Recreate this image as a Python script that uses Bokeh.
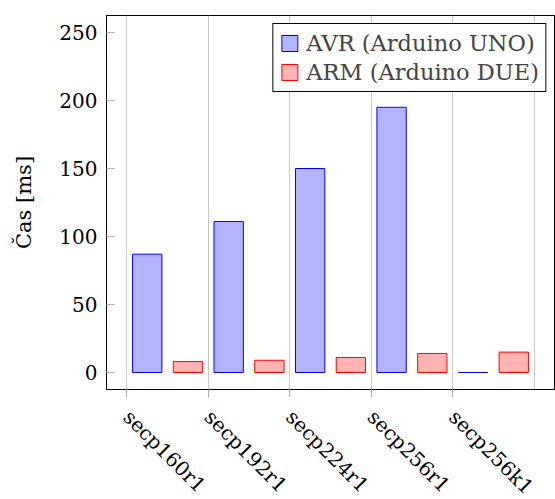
import math
from bokeh.plotting import figure
from bokeh.models import Range1d, FixedTicker, Legend, LegendItem
from bokeh.embed import file_html
from bokeh.resources import INLINE

categories = ["secp160r1", "secp192r1", "secp224r1", "secp256r1", "secp256k1"]
avr_ms = [87, 111, 150, 195, 0]
arm_ms = [8, 9, 11, 14, 15]
y_ticks = [0, 50, 100, 150, 200, 250]
series_names = ["AVR (Arduino UNO)", "ARM (Arduino DUE)"]

FONT = "DejaVu Serif"
idx = list(range(len(categories)))
x_avr = [i - 0.25 for i in idx]
x_arm = [i + 0.25 for i in idx]
boundaries = [i - 0.5 for i in range(len(categories) + 1)]

p = figure(frame_width=448, frame_height=374,
           x_range=Range1d(-0.75, 4.75), y_range=Range1d(-12.5, 262.5),
           output_backend="svg", toolbar_location=None,
           min_border_left=106, min_border_top=15, min_border_right=1,
           min_border_bottom=109)

r1 = p.vbar(x=x_avr, top=avr_ms, bottom=0, width=0.36,
            fill_color="#b3b3ff", line_color="#0000ff", line_width=1)
r2 = p.vbar(x=x_arm, top=arm_ms, bottom=0, width=0.36,
            fill_color="#ffb3b3", line_color="#ff0000", line_width=1)

p.outline_line_color = "black"
p.outline_line_width = 1
p.outline_line_alpha = 1

p.xgrid.ticker = FixedTicker(ticks=boundaries)
p.xgrid.grid_line_color = "#c8c8c8"
p.ygrid.grid_line_color = None

xa = p.xaxis[0]
xa.ticker = FixedTicker(ticks=boundaries[:-1])
xa.major_label_overrides = {b: c for b, c in zip(boundaries, categories)}
xa.major_label_orientation = -math.pi / 4
xa.major_label_text_font = FONT
xa.major_label_text_font_size = "20px"
xa.major_label_text_color = "black"
xa.major_tick_in = 0
xa.major_tick_out = 8
xa.major_tick_line_color = "#b0b0b0"
xa.minor_tick_line_color = None
xa.axis_line_color = "black"
xa.major_label_standoff = 16

ya = p.yaxis[0]
ya.ticker = FixedTicker(ticks=y_ticks)
ya.major_label_text_font = FONT
ya.major_label_text_font_size = "20px"
ya.major_label_text_color = "black"
ya.major_tick_in = 8
ya.major_tick_out = 0
ya.major_tick_line_color = "#b0b0b0"
ya.minor_tick_line_color = None
ya.axis_line_color = "black"
ya.major_label_standoff = 9
ya.axis_label = "Čas [ms]"
ya.axis_label_text_font = FONT
ya.axis_label_text_font_size = "21px"
ya.axis_label_text_font_style = "normal"
ya.axis_label_text_color = "black"
ya.axis_label_standoff = 20

legend = Legend(items=[LegendItem(label=series_names[0], renderers=[r1]),
                       LegendItem(label=series_names[1], renderers=[r2])],
                location="top_right", margin=8,
                border_line_color="black", border_line_width=1, border_line_alpha=1,
                label_text_font=FONT, label_text_font_size="22.5px",
                glyph_width=20, glyph_height=20, label_standoff=7,
                label_height=20, padding=6, spacing=3,
                background_fill_alpha=1)
p.add_layout(legend)

open("out.html", "w").write(file_html(p, INLINE))
